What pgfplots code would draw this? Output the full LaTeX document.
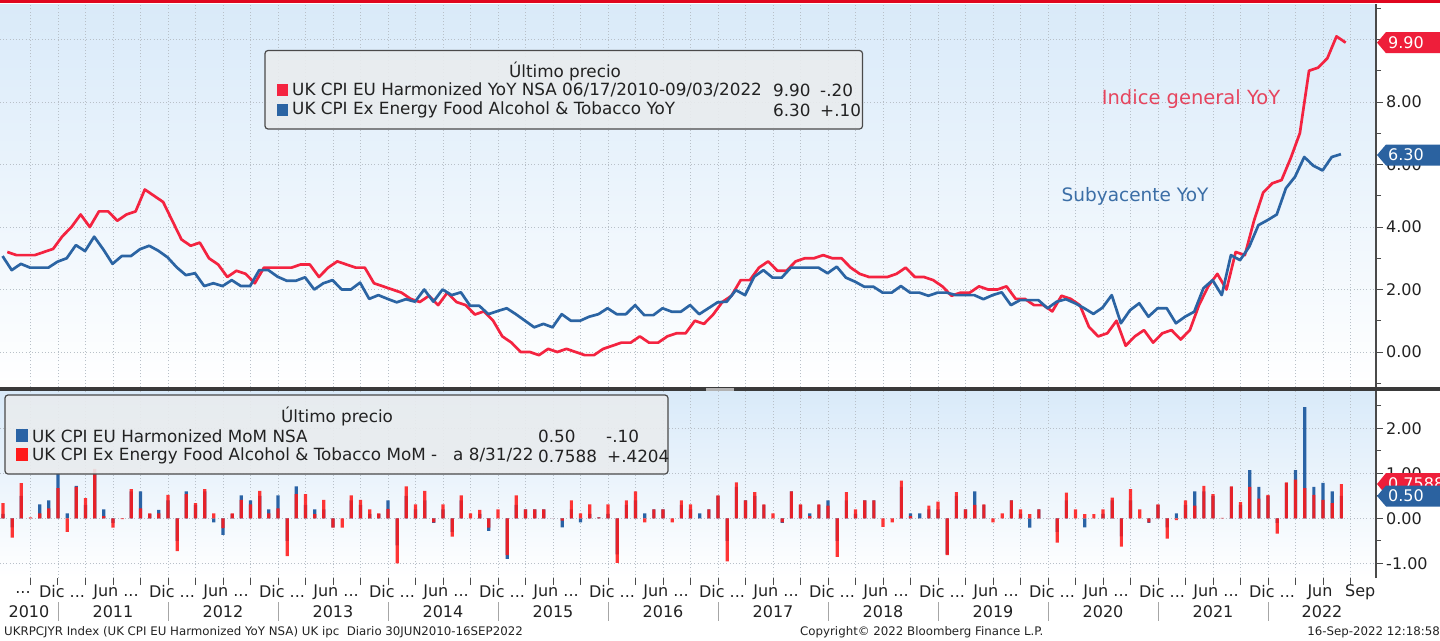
\documentclass[border=0pt]{standalone}
\usepackage{pgfplots}
\pgfplotsset{compat=1.18}
\usepackage{pgfplotstable}
\usepackage{fontspec}
\setmainfont{DejaVu Sans}
\definecolor{topred}{HTML}{E0061F}
\definecolor{linered}{HTML}{F42340}
\definecolor{lineblue}{HTML}{2B64A3}
\definecolor{barred}{HTML}{FF1A1A}
\definecolor{barblue}{HTML}{2A63A5}
\definecolor{bgtop}{HTML}{D9EAF9}
\definecolor{gridc}{HTML}{B8C0C8}
\definecolor{axisc}{HTML}{4A4A4A}
\definecolor{sepc}{HTML}{3A3A3A}
\definecolor{legfill}{HTML}{E9ECEE}
\definecolor{annred}{HTML}{E6455E}
\definecolor{annblue}{HTML}{3B6EA6}
\definecolor{tagred}{HTML}{EE1E3A}
\definecolor{tagblue}{HTML}{2B62A0}
\definecolor{txt}{HTML}{222222}
\newcommand{\lf}{\fontsize{16.8}{18}\selectfont}
\newcommand{\tf}{\fontsize{16}{18}\selectfont}
\newcommand{\ff}{\fontsize{11.8}{13}\selectfont}

% headline CPI YoY (m = months since Jan 2010)
\pgfplotstableread[row sep=\\]{m v\\
5 3.2\\ 6 3.1\\ 7 3.1\\ 8 3.1\\ 9 3.2\\ 10 3.3\\ 11 3.7\\
12 4.0\\ 13 4.4\\ 14 4.0\\ 15 4.5\\ 16 4.5\\ 17 4.2\\ 18 4.4\\ 19 4.5\\ 20 5.2\\ 21 5.0\\ 22 4.8\\ 23 4.2\\
24 3.6\\ 25 3.4\\ 26 3.5\\ 27 3.0\\ 28 2.8\\ 29 2.4\\ 30 2.6\\ 31 2.5\\ 32 2.2\\ 33 2.7\\ 34 2.7\\ 35 2.7\\
36 2.7\\ 37 2.8\\ 38 2.8\\ 39 2.4\\ 40 2.7\\ 41 2.9\\ 42 2.8\\ 43 2.7\\ 44 2.7\\ 45 2.2\\ 46 2.1\\ 47 2.0\\
48 1.9\\ 49 1.7\\ 50 1.6\\ 51 1.8\\ 52 1.5\\ 53 1.9\\ 54 1.6\\ 55 1.5\\ 56 1.2\\ 57 1.3\\ 58 1.0\\ 59 0.5\\
60 0.3\\ 61 0.0\\ 62 0.0\\ 63 -0.1\\ 64 0.1\\ 65 0.0\\ 66 0.1\\ 67 0.0\\ 68 -0.1\\ 69 -0.1\\ 70 0.1\\ 71 0.2\\
72 0.3\\ 73 0.3\\ 74 0.5\\ 75 0.3\\ 76 0.3\\ 77 0.5\\ 78 0.6\\ 79 0.6\\ 80 1.0\\ 81 0.9\\ 82 1.2\\ 83 1.6\\
84 1.8\\ 85 2.3\\ 86 2.3\\ 87 2.7\\ 88 2.9\\ 89 2.6\\ 90 2.6\\ 91 2.9\\ 92 3.0\\ 93 3.0\\ 94 3.1\\ 95 3.0\\
96 3.0\\ 97 2.7\\ 98 2.5\\ 99 2.4\\ 100 2.4\\ 101 2.4\\ 102 2.5\\ 103 2.7\\ 104 2.4\\ 105 2.4\\ 106 2.3\\ 107 2.1\\
108 1.8\\ 109 1.9\\ 110 1.9\\ 111 2.1\\ 112 2.0\\ 113 2.0\\ 114 2.1\\ 115 1.7\\ 116 1.7\\ 117 1.5\\ 118 1.5\\ 119 1.3\\
120 1.8\\ 121 1.7\\ 122 1.5\\ 123 0.8\\ 124 0.5\\ 125 0.6\\ 126 1.0\\ 127 0.2\\ 128 0.5\\ 129 0.7\\ 130 0.3\\ 131 0.6\\
132 0.7\\ 133 0.4\\ 134 0.7\\ 135 1.5\\ 136 2.1\\ 137 2.5\\ 138 2.0\\ 139 3.2\\ 140 3.1\\ 141 4.2\\ 142 5.1\\ 143 5.4\\
144 5.5\\ 145 6.2\\ 146 7.0\\ 147 9.0\\ 148 9.1\\ 149 9.4\\ 150 10.1\\ 151 9.9\\
}\redyoy

% core CPI YoY
\pgfplotstableread[row sep=\\]{m v\\
5 3.07\\ 6 2.62\\ 7 2.82\\ 8 2.70\\ 9 2.70\\ 10 2.70\\ 11 2.89\\
12 3.00\\ 13 3.42\\ 14 3.23\\ 15 3.69\\ 16 3.28\\ 17 2.82\\ 18 3.07\\ 19 3.07\\ 20 3.29\\ 21 3.40\\ 22 3.24\\ 23 3.03\\
24 2.71\\ 25 2.46\\ 26 2.52\\ 27 2.11\\ 28 2.20\\ 29 2.11\\ 30 2.30\\ 31 2.11\\ 32 2.11\\ 33 2.62\\ 34 2.62\\ 35 2.41\\
36 2.28\\ 37 2.28\\ 38 2.39\\ 39 2.00\\ 40 2.20\\ 41 2.30\\ 42 2.00\\ 43 2.00\\ 44 2.22\\ 45 1.70\\ 46 1.82\\ 47 1.70\\
48 1.59\\ 49 1.69\\ 50 1.61\\ 51 2.00\\ 52 1.61\\ 53 2.00\\ 54 1.82\\ 55 1.91\\ 56 1.48\\ 57 1.48\\ 58 1.21\\ 59 1.31\\
60 1.40\\ 61 1.21\\ 62 1.00\\ 63 0.79\\ 64 0.90\\ 65 0.79\\ 66 1.21\\ 67 1.00\\ 68 1.00\\ 69 1.13\\ 70 1.21\\ 71 1.40\\
72 1.21\\ 73 1.21\\ 74 1.50\\ 75 1.18\\ 76 1.18\\ 77 1.40\\ 78 1.29\\ 79 1.29\\ 80 1.50\\ 81 1.21\\ 82 1.40\\ 83 1.59\\
84 1.61\\ 85 1.98\\ 86 1.82\\ 87 2.41\\ 88 2.62\\ 89 2.38\\ 90 2.38\\ 91 2.70\\ 92 2.70\\ 93 2.70\\ 94 2.70\\ 95 2.52\\
96 2.73\\ 97 2.38\\ 98 2.25\\ 99 2.09\\ 100 2.09\\ 101 1.90\\ 102 1.90\\ 103 2.11\\ 104 1.90\\ 105 1.90\\ 106 1.80\\ 107 1.90\\
108 1.90\\ 109 1.82\\ 110 1.82\\ 111 1.82\\ 112 1.69\\ 113 1.82\\ 114 1.91\\ 115 1.50\\ 116 1.66\\ 117 1.66\\ 118 1.66\\ 119 1.40\\
120 1.61\\ 121 1.69\\ 122 1.56\\ 123 1.40\\ 124 1.22\\ 125 1.42\\ 126 1.82\\ 127 0.92\\ 128 1.34\\ 129 1.56\\ 130 1.13\\ 131 1.40\\
132 1.40\\ 133 0.92\\ 134 1.13\\ 135 1.29\\ 136 2.04\\ 137 2.30\\ 138 1.82\\ 139 3.10\\ 140 2.94\\ 141 3.37\\ 142 4.06\\ 143 4.22\\
144 4.40\\ 145 5.24\\ 146 5.61\\ 147 6.24\\ 148 5.96\\ 149 5.81\\ 150 6.24\\ 151 6.33\\
}\blueyoy

% MoM bars: hm = headline MoM (blue), cm = core MoM (red)
\pgfplotstableread[row sep=\\]{m hm cm\\
5 0.1 0.34\\ 6 -0.2 -0.43\\ 7 0.5 0.78\\ 8 0.0 0.02\\ 9 0.31 0.11\\ 10 0.40 0.22\\ 11 1.0 0.67\\
12 0.11 -0.30\\ 13 0.72 0.70\\ 14 0.3 0.45\\ 15 1.0 1.1\\ 16 0.2 0.05\\ 17 -0.1 -0.21\\ 18 0.0 -0.02\\ 19 0.6 0.65\\ 20 0.6 0.22\\ 21 0.1 0.11\\ 22 0.19 0.11\\ 23 0.4 0.52\\
24 -0.5 -0.73\\ 25 0.6 0.54\\ 26 0.3 0.34\\ 27 0.6 0.65\\ 28 -0.09 0.11\\ 29 -0.37 -0.22\\ 30 0.1 0.11\\ 31 0.51 0.41\\ 32 0.4 0.31\\ 33 0.5 0.61\\ 34 0.2 0.11\\ 35 0.51 0.22\\
36 -0.5 -0.84\\ 37 0.71 0.54\\ 38 0.3 0.54\\ 39 0.2 0.09\\ 40 0.2 0.41\\ 41 -0.2 -0.21\\ 42 0.0 -0.21\\ 43 0.4 0.51\\ 44 0.3 0.41\\ 45 0.1 0.2\\ 46 0.1 0.11\\ 47 0.4 0.21\\
48 -0.6 -1.0\\ 49 0.5 0.71\\ 50 0.2 0.31\\ 51 0.4 0.61\\ 52 -0.1 -0.09\\ 53 0.2 0.31\\ 54 -0.3 -0.41\\ 55 0.4 0.51\\ 56 0.0 0.11\\ 57 0.1 0.19\\ 58 -0.28 -0.21\\ 59 0.0 0.2\\
60 -0.9 -0.82\\ 61 0.3 0.51\\ 62 0.2 0.2\\ 63 0.2 0.2\\ 64 0.2 0.2\\ 65 0.0 0.0\\ 66 -0.2 -0.05\\ 67 0.2 0.4\\ 68 -0.09 0.11\\ 69 0.1 0.31\\ 70 0.02 0.02\\ 71 0.1 0.31\\
72 -0.8 -0.99\\ 73 0.3 0.4\\ 74 0.4 0.6\\ 75 0.11 -0.09\\ 76 0.2 0.2\\ 77 0.2 0.2\\ 78 0.0 -0.09\\ 79 0.3 0.4\\ 80 0.2 0.31\\ 81 0.11 0.0\\ 82 0.2 0.2\\ 83 0.5 0.51\\
84 -0.5 -0.96\\ 85 0.7 0.8\\ 86 0.4 0.4\\ 87 0.5 0.58\\ 88 0.3 0.31\\ 89 0.0 0.11\\ 90 -0.1 -0.09\\ 91 0.6 0.6\\ 92 0.3 0.31\\ 93 0.11 0.05\\ 94 0.3 0.31\\ 95 0.4 0.28\\
96 -0.5 -0.86\\ 97 0.4 0.58\\ 98 0.1 0.2\\ 99 0.4 0.4\\ 100 0.4 0.4\\ 101 0.0 -0.19\\ 102 0.0 -0.09\\ 103 0.7 0.84\\ 104 0.11 0.05\\ 105 0.11 0.0\\ 106 0.2 0.28\\ 107 0.2 0.37\\
108 -0.8 -0.82\\ 109 0.5 0.58\\ 110 0.2 0.2\\ 111 0.6 0.3\\ 112 0.3 0.31\\ 113 0.0 -0.09\\ 114 0.0 0.11\\ 115 0.4 0.4\\ 116 0.1 0.2\\ 117 -0.21 0.09\\ 118 0.2 0.2\\ 119 0.0 0.0\\
120 -0.3 -0.54\\ 121 0.4 0.57\\ 122 0.0 0.2\\ 123 -0.2 0.09\\ 124 0.0 0.09\\ 125 0.1 0.2\\ 126 0.4 0.46\\ 127 -0.4 -0.63\\ 128 0.4 0.65\\ 129 0.0 0.2\\ 130 -0.1 -0.09\\ 131 0.3 0.31\\
132 -0.2 -0.45\\ 133 0.11 -0.04\\ 134 0.3 0.4\\ 135 0.6 0.28\\ 136 0.6 0.72\\ 137 0.5 0.54\\ 138 0.0 0.01\\ 139 0.7 0.71\\ 140 0.3 0.36\\ 141 1.07 0.7\\ 142 0.7 0.44\\ 143 0.5 0.52\\
144 -0.1 -0.34\\ 145 0.78 0.8\\ 146 1.07 0.86\\ 147 2.47 0.67\\ 148 0.7 0.52\\ 149 0.79 0.41\\ 150 0.6 0.34\\ 151 0.5 0.7588\\
}\mombars

\pgfplotsset{bbg/.style={
  scale only axis, width=1376pt, xmin=5.673, xmax=155.78,
  axis line style={draw=none},
  xtick={9,12,...,153}, xticklabels={},
  grid=major,
  major grid style={gridc, line width=0.7pt, dash pattern=on 1pt off 2.2pt},
  ytick pos=right, yticklabel pos=right, tick align=outside,
  major tick length=7pt, minor tick length=5pt,
  ytick style={axisc, line width=1pt},
  yticklabel style={font=\tf, text=txt, anchor=west, inner sep=0pt, xshift=3pt},
  scaled y ticks=false,
  /pgf/number format/.cd, fixed, fixed zerofill, precision=2, assume math mode=true,
  /pgfplots/.cd,
  clip mode=individual,
  axis background/.style={top color=bgtop, bottom color=white},
}}

\begin{document}
\begin{tikzpicture}
\fill[white] (0,0) rectangle (1440pt,-640pt);
\useasboundingbox (0,0) rectangle (1440pt,-640pt);

% ---------- top panel ----------
\begin{axis}[bbg, at={(0pt,-4pt)}, anchor=north west, height=383pt,
  ymin=-1.12, ymax=11.136,
  ytick={0,2,4,6,8,10}, minor ytick={-1,1,3,5,7,9,11},
  xtick style={draw=none}]
\addplot[linered, line width=2.7pt, line join=round] table[x expr=\thisrow{m}+1.47, y=v] {\redyoy};
\addplot[lineblue, line width=2.7pt, line join=round] table[x expr=\thisrow{m}+0.95, y=v] {\blueyoy};
\draw[axisc, line width=1.2pt] (rel axis cs:1,0) -- (rel axis cs:1,1);
\end{axis}

% ---------- bottom panel ----------
\begin{axis}[bbg, at={(0pt,-391pt)}, anchor=north west, height=187pt,
  ymin=-1.327, ymax=2.829,
  ytick={-1,0,1,2}, minor ytick={-0.5,0.5,1.5,2.5},
  xtick pos=left, xtick style={axisc, line width=1pt}]
\addplot[ybar, bar width=3.2pt, bar shift=0pt, fill=barblue, draw=none] table[x expr=\thisrow{m}+1, y=hm] {\mombars};
\addplot[ybar, bar width=3.2pt, bar shift=0pt, fill=barred, fill opacity=0.88, draw=none] table[x expr=\thisrow{m}+1, y=cm] {\mombars};
\draw[axisc, line width=1.2pt] (rel axis cs:1,0) -- (rel axis cs:1,1);
\end{axis}

\begin{scope}[x=1pt,y=1pt]
% top red bar and separator
\fill[topred] (0,0) rectangle (1440,-3);
\fill[sepc] (0,-387) rectangle (1440,-391);
\fill[gray!60] (706,-387.5) rectangle (734,-390.5);

% annotations
\node[annred, font=\fontsize{19.5}{21}\selectfont, inner sep=0pt] at (1191,-99) {Indice general YoY};
\node[annblue, font=\fontsize{18.5}{20}\selectfont, inner sep=0pt] at (1135,-196) {Subyacente YoY};

% value tags top
\fill[tagred] (1377,-42.6) -- (1386,-32) -- (1440,-32) -- (1440,-53.2) -- (1386,-53.2) -- cycle;
\node[white, font=\tf, anchor=west, inner sep=0pt] at (1388,-42.6) {9.90};
\fill[tagblue] (1377,-155) -- (1386,-144.5) -- (1440,-144.5) -- (1440,-165.5) -- (1386,-165.5) -- cycle;
\node[white, font=\tf, anchor=west, inner sep=0pt] at (1388,-155) {6.30};
% value tags bottom
\fill[tagred] (1377,-484) -- (1386,-473) -- (1440,-473) -- (1440,-495) -- (1386,-495) -- cycle;
\node[white, font=\tf, anchor=west, inner sep=0pt] at (1388,-484) {0.7588};
\fill[tagblue] (1377,-496) -- (1386,-485.5) -- (1440,-485.5) -- (1440,-506.5) -- (1386,-506.5) -- cycle;
\node[white, font=\tf, anchor=west, inner sep=0pt] at (1388,-496) {0.50};

% top legend
\filldraw[fill=legfill, fill opacity=0.9, draw=axisc, line width=1.2pt, rounded corners=3pt] (265,-50.5) rectangle (862.5,-129);
\node[txt, font=\lf, inner sep=0pt] at (565,-71) {Último precio};
\fill[linered] (277,-84) rectangle (288,-96);
\fill[lineblue] (277,-104) rectangle (288,-116);
\node[txt, font=\lf, anchor=west, inner sep=0pt] at (292,-90) {UK CPI EU Harmonized YoY NSA 06/17/2010-09/03/2022};
\node[txt, font=\lf, anchor=west, inner sep=0pt] at (292,-110) {UK CPI Ex Energy Food Alcohol \& Tobacco YoY};
\node[txt, font=\lf, anchor=west, inner sep=0pt] at (773,-90) {9.90};
\node[txt, font=\lf, anchor=west, inner sep=0pt] at (773,-110) {6.30};
\node[txt, font=\lf, anchor=west, inner sep=0pt] at (820,-90) {-.20};
\node[txt, font=\lf, anchor=west, inner sep=0pt] at (820,-110) {+.10};

% bottom legend
\filldraw[fill=legfill, fill opacity=0.9, draw=axisc, line width=1.2pt, rounded corners=3pt] (5,-395) rectangle (668,-474);
\node[txt, font=\lf, inner sep=0pt] at (337,-416) {Último precio};
\fill[barblue] (16,-429) rectangle (28,-442);
\fill[barred] (16,-448) rectangle (28,-461);
\node[txt, font=\lf, anchor=west, inner sep=0pt] at (32,-436) {UK CPI EU Harmonized MoM NSA};
\node[txt, font=\lf, anchor=west, inner sep=0pt] at (32,-456) {UK CPI Ex Energy Food Alcohol \& Tobacco MoM -\ \ \ a 8/31/22};
\node[txt, font=\lf, anchor=west, inner sep=0pt] at (538,-436) {0.50};
\node[txt, font=\lf, anchor=west, inner sep=0pt] at (538,-456) {0.7588};
\node[txt, font=\lf, anchor=west, inner sep=0pt] at (606,-436) {-.10};
\node[txt, font=\lf, anchor=west, inner sep=0pt] at (607,-456) {+.4204};

% x-axis labels
\node[txt, font=\tf, inner sep=0pt] at (23,-592) {...};
\foreach \t in {12,24,...,144} {
  \node[txt, font=\tf, inner sep=0pt] at ({58+(\t-12)*9.1667+4}, -592) {Dic ...};
}
\foreach \t in {18,30,...,138} {
  \node[txt, font=\tf, inner sep=0pt] at ({58+(\t-12)*9.1667+3}, -592) {Jun ...};
}
\node[txt, font=\tf, inner sep=0pt] at (1320,-592) {Jun};
\node[txt, font=\tf, inner sep=0pt, anchor=west] at (1345,-592) {Sep};
% years
\node[txt, font=\tf, inner sep=0pt] at (29,-612) {2010};
\foreach \y [evaluate=\y as \t using {(\y-2010)*12}] in {2011,...,2021} {
  \node[txt, font=\tf, inner sep=0pt] at ({58+(\t-12)*9.1667+55}, -612) {\y};
}
\node[txt, font=\tf, inner sep=0pt] at (1322,-612) {2022};
\foreach \y [evaluate=\y as \t using {(\y-2010)*12}] in {2011,...,2022} {
  \draw[gray!70, line width=1pt] ({58+(\t-12)*9.1667}, -602) -- ({58+(\t-12)*9.1667}, -621);
}
% footer
\node[txt, font=\ff, anchor=west, inner sep=0pt] at (4,-632) {UKRPCJYR Index (UK CPI EU Harmonized YoY NSA) UK ipc\ \ Diario 30JUN2010-16SEP2022};
\node[txt, font=\ff, anchor=west, inner sep=0pt] at (800,-632) {Copyright© 2022 Bloomberg Finance L.P.};
\node[txt, font=\ff, anchor=east, inner sep=0pt] at (1440,-632) {16-Sep-2022 12:18:58};
\end{scope}
\end{tikzpicture}
\end{document}
